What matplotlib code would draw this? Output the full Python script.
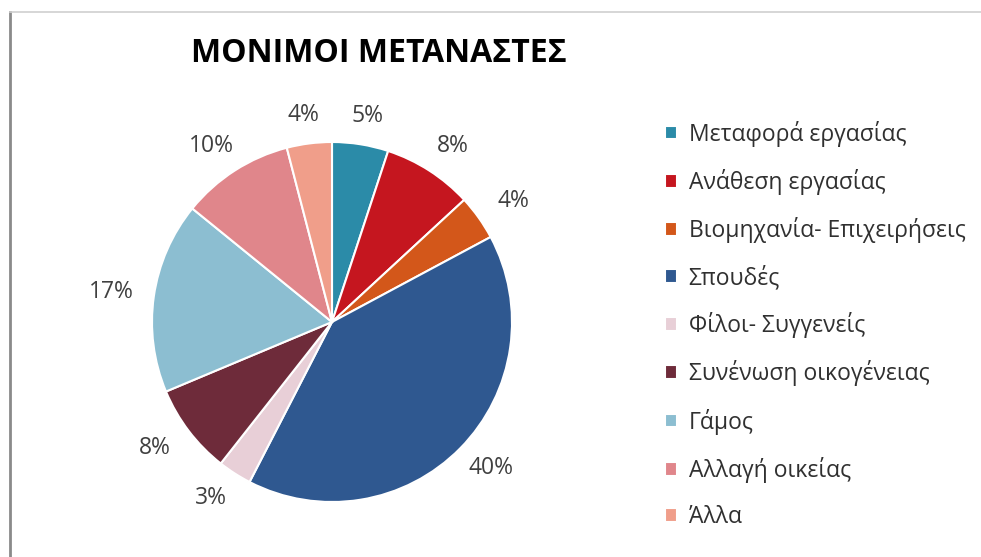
import numpy as np
import matplotlib
matplotlib.use("Agg")
import matplotlib.pyplot as plt
from matplotlib.lines import Line2D

plt.rcParams['font.family'] = ['Open Sans', 'DejaVu Sans']

title = "ΜΟΝΙΜΟΙ ΜΕΤΑΝΑΣΤΕΣ"
categories = ["Μεταφορά εργασίας", "Ανάθεση εργασίας", "Βιομηχανία- Επιχειρήσεις",
              "Σπουδές", "Φίλοι- Συγγενείς", "Συνένωση οικογένειας", "Γάμος",
              "Αλλαγή οικείας", "Άλλα"]
values = [5, 8, 4, 40, 3, 8, 17, 10, 4]
colors = ["#2B8BA8", "#C5161F", "#D3571A", "#2F5890", "#E8CFD7",
          "#6E2B3A", "#8CBED1", "#E0868B", "#F09E8A"]

W, H = 981, 557
fig = plt.figure(figsize=(W / 100, H / 100), dpi=100)
fig.patch.set_facecolor("white")

cx, cy, R = 332, 322, 180
ax = fig.add_axes([(cx - R) / W, (H - cy - R) / H, 2 * R / W, 2 * R / H])

wedges, texts, autotexts = ax.pie(
    values, colors=colors, startangle=90, counterclock=False, radius=1,
    autopct="%.0f%%", pctdistance=1.2,
    wedgeprops=dict(edgecolor="white", linewidth=1.5),
    textprops=dict(color="#404040", fontsize=16.5))
# place labels on an ellipse around the pie (wider horizontally)
for w, t in zip(wedges, autotexts):
    th = np.deg2rad((w.theta1 + w.theta2) / 2)
    t.set_position((1.24 * np.cos(th), 1.16 * np.sin(th)))
    t.set_ha("center")
    t.set_va("center")
ax.set_xlim(-1, 1)
ax.set_ylim(-1, 1)
ax.set_aspect("equal")
ax.axis("off")

fig.text(379 / W, 1 - 53 / H, title, ha="center", va="center",
         fontsize=23, fontweight="bold", color="black")

fig.legend(wedges, categories, loc="upper left",
           bbox_to_anchor=(644 / W, 1 - 100 / H), frameon=False,
           fontsize=16.5, labelcolor="#303030",
           handlelength=0.55, handleheight=0.55, handletextpad=0.5,
           labelspacing=0.97)

# frame lines
fig.add_artist(Line2D([10 / W, 10 / W], [0, 1 - 12 / H], transform=fig.transFigure,
                      color="#8a8a8a", linewidth=2))
fig.add_artist(Line2D([10 / W, 1], [1 - 12 / H, 1 - 12 / H], transform=fig.transFigure,
                      color="#cfcfcf", linewidth=1.2))

fig.savefig("out.png", dpi=100, facecolor="white")
